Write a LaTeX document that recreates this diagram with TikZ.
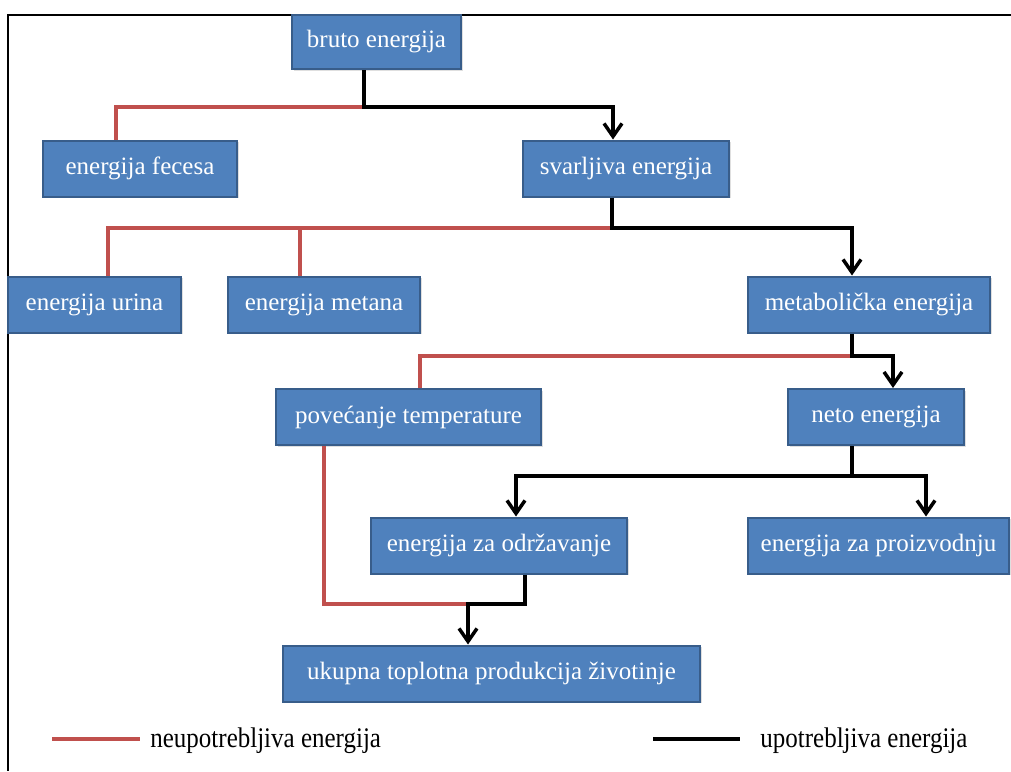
\documentclass[tikz,border=0pt]{standalone}
\usepackage{fontspec}
\usepackage{graphicx}
\setmainfont{Liberation Serif}
\usetikzlibrary{arrows.meta,shadows}

\definecolor{boxblue}{HTML}{4F81BD}
\definecolor{boxedge}{HTML}{385D8A}
\definecolor{lostred}{HTML}{C0504D}

\begin{document}
\begin{tikzpicture}[x=0.5pt,y=-0.5pt,
    box/.style={draw=boxedge, line width=1pt, fill=boxblue, text=white,
      minimum height=28pt, inner sep=0pt, font=\fontsize{12.5}{15}\selectfont,
      drop shadow={opacity=0.25, shadow xshift=0.8pt, shadow yshift=-0.8pt}},
    lost/.style={draw=lostred, line width=1.75pt},
    used/.style={draw=black, line width=1.75pt},
    usedarrow/.style={used, -{Straight Barb[length=6.5pt,width=9pt]}},
    legend/.style={anchor=west, inner sep=0pt, font=\fontsize{14.2}{16}\selectfont}]
    \useasboundingbox (0,0) rectangle (1011,771);

    % frame
    \draw[line width=0.75pt] (1011,15) -- (8,15) -- (8,771);

    % boxes
    \node[box, minimum width=84.5pt, minimum height=27pt] (bruto) at (376.5,42) {bruto energija};
    \node[box, minimum width=97pt] (fecesa) at (140,168.5) {energija fecesa};
    \node[box, minimum width=103pt] (svarljiva) at (626,168.5) {svarljiva energija};
    \node[box, minimum width=86.5pt] (urina) at (94.5,304.5) {energija urina};
    \node[box, minimum width=96pt] (metana) at (324,304.5) {energija metana};
    \node[box, minimum width=121pt] (metabolicka) at (869,304.5) {metabolička energija};
    \node[box, minimum width=132.5pt] (temperatura) at (408.5,417) {povećanje temperature};
    \node[box, minimum width=88pt] (neto) at (876,417) {neto energija};
    \node[box, minimum width=128pt] (odrzavanje) at (499,545.5) {energija za održavanje};
    \node[box, minimum width=130.5pt] (proizvodnja) at (878.5,545.5) {energija za proizvodnju};
    \node[box, minimum width=208.5pt] (toplota) at (491.5,673.5) {ukupna toplotna produkcija životinje};

    % bend points
    \coordinate (b1) at (364,107);
    \coordinate (b2) at (612,228);
    \coordinate (b3) at (852,356);
    \coordinate (b4) at (852,476);
    \coordinate (b5) at (468,604);

    % unusable energy (red)
    \draw[lost] (b1) -- (116,107) -- (fecesa.north -| 116,0);
    \draw[lost] (b2) -- (108,228) -- (urina.north -| 108,0);
    \draw[lost] (300,228) -- (metana.north -| 300,0);
    \draw[lost] (b3) -- (420,356) -- (temperatura.north -| 420,0);
    \draw[lost] (temperatura.south -| 324,0) -- (324,604) -- (b5);

    % usable energy (black)
    \draw[usedarrow] (bruto.south -| b1) -- (b1) -- (613,107) -- (svarljiva.north -| 613,0);
    \draw[usedarrow] (svarljiva.south -| b2) -- (b2) -- (852,228) -- (metabolicka.north -| 852,0);
    \draw[usedarrow] (metabolicka.south -| b3) -- (b3) -- (893,356) -- (neto.north -| 893,0);
    \draw[used] (neto.south -| b4) -- (b4);
    \draw[usedarrow] (b4) -- (516,476) -- (odrzavanje.north -| 516,0);
    \draw[usedarrow] (b4) -- (926,476) -- (proizvodnja.north -| 926,0);
    \draw[usedarrow] (odrzavanje.south -| 525,0) -- (525,604) -- (b5) -- (toplota.north -| b5);

    % legend
    \coordinate (r1) at (52,739);
    \coordinate (r2) at (140,739);
    \coordinate (k1) at (653,739);
    \coordinate (k2) at (740,739);
    \draw[lost, line width=2pt] (r1) -- (r2);
    \node[legend] (lostlabel) at (150,741) {\scalebox{0.88}[1]{neupotrebljiva energija}};
    \draw[used, line width=2pt] (k1) -- (k2);
    \node[legend] (usedlabel) at (760,741) {\scalebox{0.88}[1]{upotrebljiva energija}};
\end{tikzpicture}
\end{document}
